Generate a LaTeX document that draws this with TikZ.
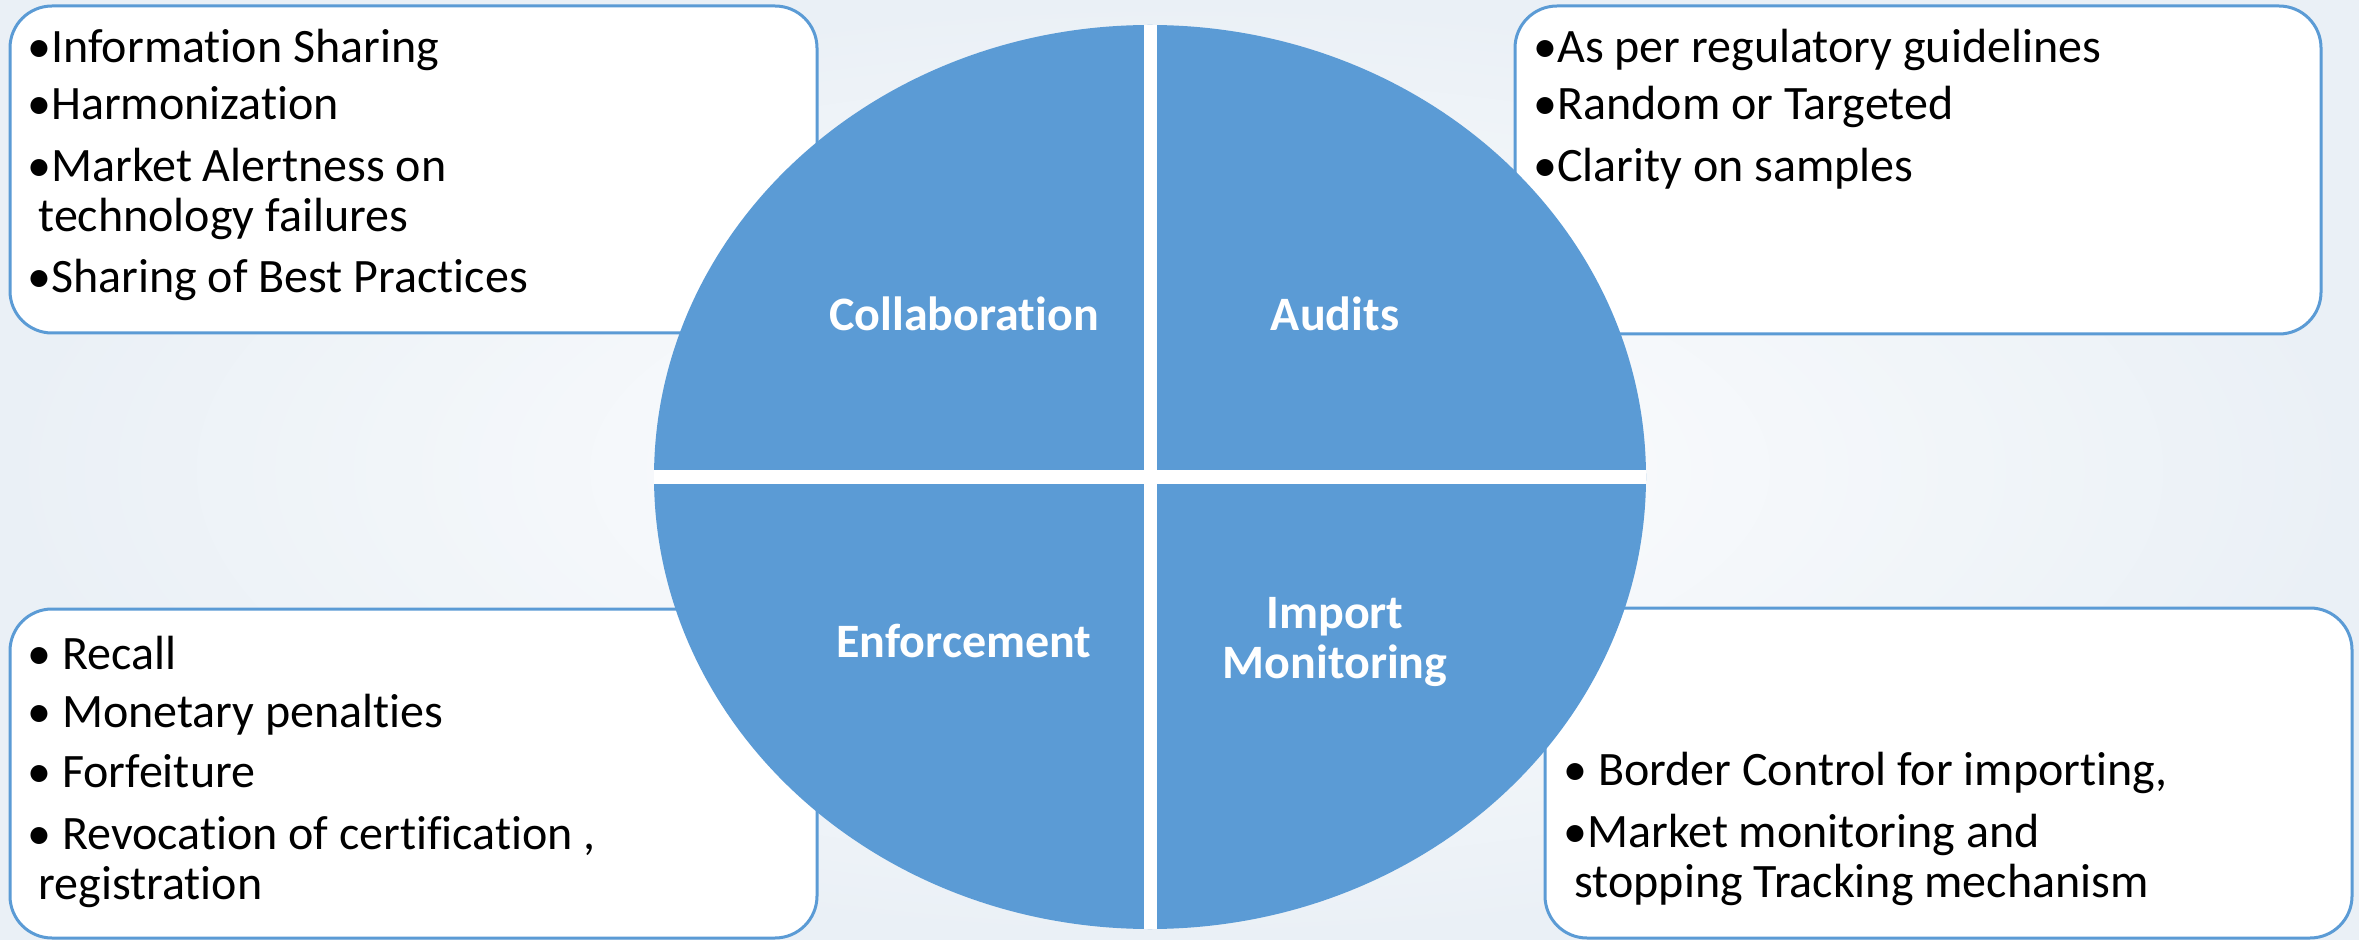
\documentclass[tikz,border=0pt]{standalone}
\usepackage{fontspec}
\setmainfont{Carlito}[Ligatures={NoCommon}]
\usetikzlibrary{shapes.geometric}
\definecolor{qblue}{RGB}{91,155,213}
\definecolor{bgedge}{RGB}{234,240,246}
\begin{document}
\begin{tikzpicture}[x=0.5pt,y=-0.5pt,
  box/.style={draw=qblue, line width=1.5pt, fill=white, rounded corners=21pt, inner sep=0pt},
  item/.style={anchor=base west, inner sep=0pt, font=\fontsize{24}{28}\selectfont},
  quad/.style={text=white, font=\fontsize{24}{25}\selectfont\bfseries, align=center, inner sep=0pt},
  gap/.style={draw=white}]
\useasboundingbox (0,0) rectangle (2359,940);
\shade[inner color=white, outer color=bgedge] (0,0) rectangle (2359,940);
% boxes
\node[box, minimum width=403.5pt, minimum height=163.5pt] (b1) at (413.5,169.5) {};
\node[box, minimum width=403pt, minimum height=164pt] (b2) at (1918,170) {};
\node[box, minimum width=403.5pt, minimum height=164.5pt] (b3) at (413.5,773.5) {};
\node[box, minimum width=403.5pt, minimum height=165pt] (b4) at (1948.5,773) {};
% ellipse
\node[ellipse, fill=qblue, minimum width=496pt, minimum height=452pt, inner sep=0pt] (circ) at (1150,477) {};
\draw[gap, line width=6.5pt] (circ.north) -- (circ.south);
\draw[gap, line width=7pt] (circ.west) -- (circ.east);
% quadrant labels
\node[quad] (lc) at (964,314) {Collaboration};
\node[quad] (la) at (1335,314) {Audits};
\node[quad] (le) at (964,641) {Enforcement};
\node[quad] (lm) at (1335,642) {Import\\Monitoring};
% top-left items
\node[item] (t1) at (27,63) {•Information Sharing};
\node[item] (t2) at (27,120) {•Harmonization};
\node[item] (t3) at (27,182) {•Market Alertness on};
\node[item] (t4) at (38,232) {technology failures};
\node[item] (t5) at (27,293) {•Sharing of Best Practices};
% top-right items
\node[item] (r1) at (1533,63) {•As per regulatory guidelines};
\node[item] (r2) at (1533,120) {•Random or Targeted};
\node[item] (r3) at (1533,182) {•Clarity on samples};
% bottom-left items
\node[item] (e1) at (27,669) {• Recall};
\node[item] (e2) at (27,727) {• Monetary penalties};
\node[item] (e3) at (27,787) {• Forfeiture};
\node[item] (e4) at (27,849) {• Revocation of certification ,};
\node[item] (e5) at (38,899) {registration};
% bottom-right items
\node[item] (m1) at (1563,785) {• Border Control for importing,};
\node[item] (m2) at (1563,847) {•Market monitoring and};
\node[item] (m3) at (1574,897) {stopping Tracking mechanism};
\end{tikzpicture}
\end{document}
